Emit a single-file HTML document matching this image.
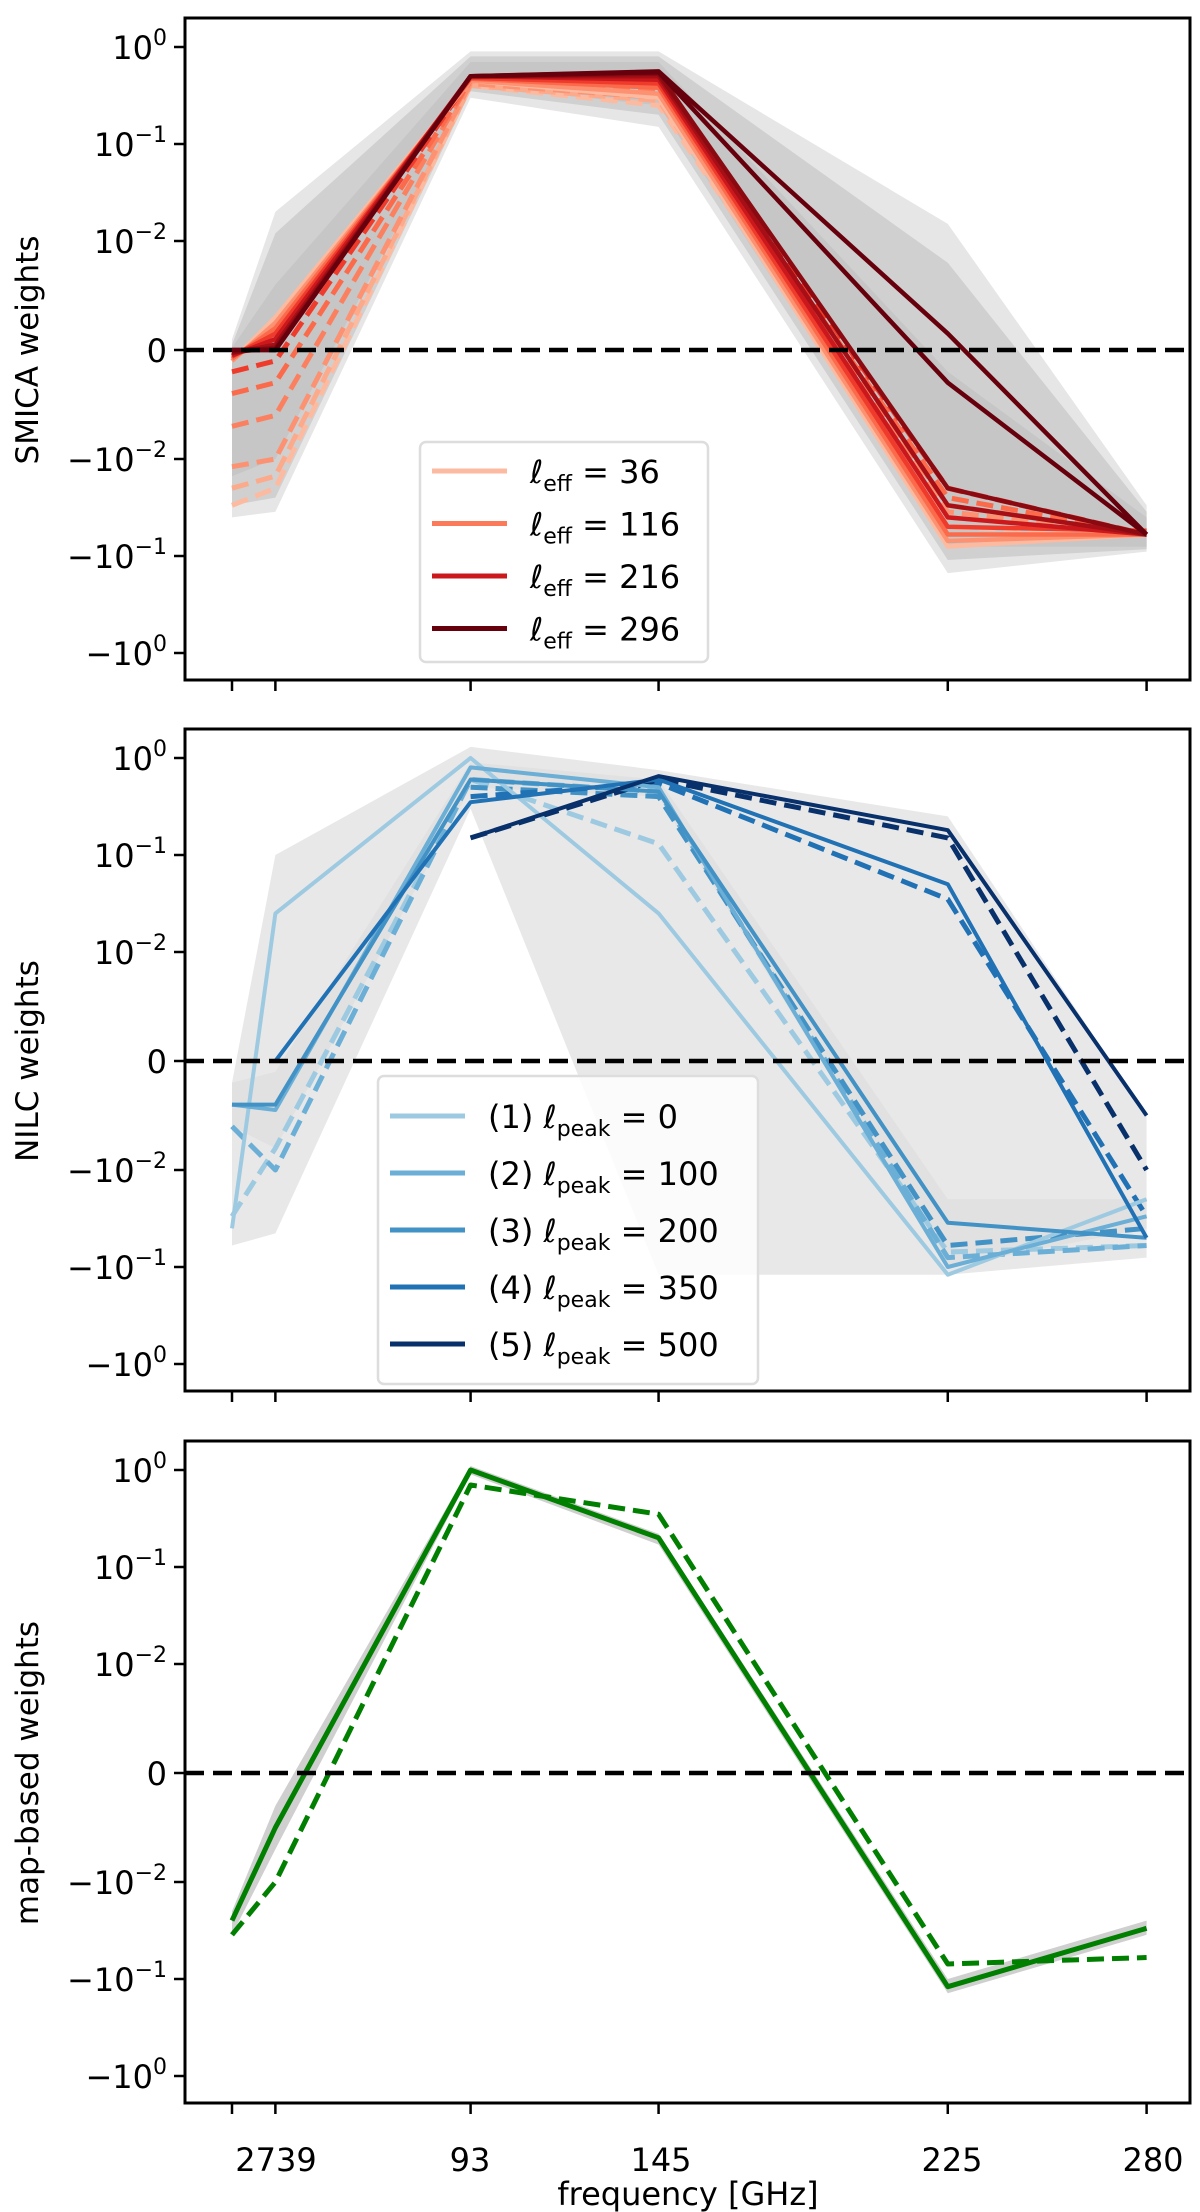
<!DOCTYPE html>
<html><head><meta charset="utf-8"><style>
html,body{margin:0;padding:0;background:#fff}
svg{display:block}
text{font-family:"DejaVu Sans","Liberation Sans",sans-serif;fill:#000}
</style></head><body>
<svg id="fig" width="1200" height="2212" viewBox="0 0 1200 2212" xmlns="http://www.w3.org/2000/svg"></svg>
<script>
const freqs=[27,39,93,145,225,280];
const freqLabels=["27","39","93","145","225","280"];
const yTickVals=[1,0.1,0.01,0,-0.01,-0.1,-1];
const yTickLabels=[["10","0"],["10","−1"],["10","−2"],["0",""],["−10","−2"],["−10","−1"],["−10","0"]];
// SMICA
const smicaSolid=[
 [-0.001,0.003,0.45,0.3,-0.08,-0.06],
 [-0.001,0.0025,0.45,0.33,-0.07,-0.06],
 [-0.0008,0.002,0.47,0.38,-0.06,-0.06],
 [-0.0006,0.0015,0.48,0.42,-0.05,-0.055],
 [-0.0005,0.001,0.5,0.46,-0.04,-0.06],
 [-0.0003,0.0005,0.5,0.5,-0.03,-0.06],
 [-0.0002,0.0002,0.5,0.53,-0.02,-0.06],
 [0,0,0.5,0.55,-0.003,-0.06],
 [0,0,0.5,0.56,0.0015,-0.06]];
const smicaSolidColors=["#fcbba1","#fc9272","#fb6a4a","#ef3b2c","#cb181d","#a50f15","#8b0a12","#67000d","#67000d"];
const smicaDashed=[
 [-0.03,-0.02,0.4,0.25,-0.05,-0.06],
 [-0.02,-0.015,0.4,0.28,-0.04,-0.06],
 [-0.012,-0.01,0.42,0.3,-0.035,-0.06],
 [-0.007,-0.006,0.45,0.35,-0.03,-0.06],
 [-0.004,-0.003,0.45,0.4,-0.025,-0.06],
 [-0.002,-0.001,0.48,0.45,-0.02,-0.06]];
const smicaDashedColors=["#fcbba1","#fcaa8c","#fc9272","#fb8060","#fb6a4a","#ef3b2c"];
const smicaBandHi=[0.001,0.02,0.9,0.9,0.015,-0.03];
const smicaBandLo=[-0.04,-0.035,0.3,0.15,-0.15,-0.09];
const smicaLegend=["36","116","216","296"];
const smicaLegendColors=["#fcbba1","#fb7a5a","#cb181d","#67000d"];
// NILC
const nilcSolid=[
 [-0.04,0.025,1.0,0.025,-0.12,-0.02],
 [-0.004,-0.0045,0.8,0.5,-0.1,-0.03],
 [-0.004,-0.004,0.6,0.45,-0.035,-0.05],
 [null,0.0,0.35,0.6,0.05,-0.05],
 [null,null,0.15,0.65,0.18,-0.005]];
const nilcDashed=[
 [-0.03,-0.008,0.6,0.13,-0.07,-0.06],
 [-0.006,-0.01,0.6,0.45,-0.08,-0.06],
 [null,null,0.5,0.4,-0.06,-0.04],
 [null,null,0.4,0.55,0.035,-0.03],
 [null,null,0.15,0.6,0.15,-0.01]];
const nilcColors=["#9ecae1","#6baed6","#4292c6","#2171b5","#08306b"];
const nilcBandHi=[-0.002,0.1,1.3,0.75,0.25,-0.005];
const nilcBandLo=[-0.06,-0.045,0.3,-0.12,-0.12,-0.08];
const nilcLegend=["(1)","0","(2)","100","(3)","200","(4)","350","(5)","500"];
// map-based
const mapSolid=[-0.025,-0.005,1.0,0.2,-0.12,-0.03];
const mapDashed=[-0.035,-0.01,0.7,0.35,-0.07,-0.06];
const mapBandHi=[-0.02,-0.003,1.1,0.22,-0.1,-0.025];
const mapBandLo=[-0.035,-0.007,0.9,0.17,-0.14,-0.035];

const NS="http://www.w3.org/2000/svg";
const svg=document.getElementById('fig');
function el(tag,attrs,parent){const e=document.createElementNS(NS,tag);for(const k in attrs)e.setAttribute(k,attrs[k]);(parent||svg).appendChild(e);return e;}
const L=185,R=1190,H=662;
const tops=[18,729,1441];
function xs(f){return 232+(f-27)*3.615;}
function ysFor(top){const z=top+332;return function(v){const a=Math.abs(v),s=Math.sign(v);
 if(a<=0.01)return z-v/0.01*109;return z-s*(109+(Math.log10(a)+2)*97);};}
function pts(vals,ys){const p=[];vals.forEach((v,i)=>{if(v!==null)p.push(xs(freqs[i]).toFixed(1)+","+ys(v).toFixed(1));});return p.join(" ");}
function band(hi,lo,ys,g,fill,op){const a=hi.map((v,i)=>xs(freqs[i]).toFixed(1)+","+ys(v).toFixed(1));
 const b=lo.map((v,i)=>xs(freqs[i]).toFixed(1)+","+ys(v).toFixed(1)).reverse();
 const p=el('polygon',{points:a.concat(b).join(" "),fill:fill,'fill-opacity':op},g);
 
 }
function line(vals,ys,g,color,dash,w,name){const p=el('polyline',{points:pts(vals,ys),fill:'none',stroke:color,'stroke-width':w||4.5,'stroke-dasharray':dash?'17,8':'none','stroke-linejoin':'round'},g);
 
 }
function axes(i){const top=tops[i],ys=ysFor(top);
 const g=el('g',{});
 
 
 return {g,ys,top};}
function frame(P,ylabel,showX){const {g,ys,top}=P;
 const z=el('line',{x1:L,x2:R,y1:ys(0),y2:ys(0),stroke:'#000','stroke-width':4.5,'stroke-dasharray':'19,9'},g);
 
 
 const r=el('rect',{x:L,y:top,width:R-L,height:H,fill:'none',stroke:'#000','stroke-width':3},g);
 
 
 yTickVals.forEach((v,k)=>{const y=ys(v);el('line',{x1:L-11,x2:L,y1:y,y2:y,stroke:'#000','stroke-width':2.5},g);
  const t=el('text',{x:L-18,y:y+12,'text-anchor':'end','font-size':32},g);
  
  
  t.textContent=yTickLabels[k][0];
  if(yTickLabels[k][1]){const s=el('tspan',{dy:-14,'font-size':22},t);s.textContent=yTickLabels[k][1];}
 });
 freqs.forEach((f)=>{el('line',{x1:xs(f),x2:xs(f),y1:top+H,y2:top+H+11,stroke:'#000','stroke-width':2.5},g);});
 const yl=el('text',{x:0,y:0,'text-anchor':'middle','font-size':31,'font-family':'Liberation Sans',transform:`translate(38,${top+332}) rotate(-90)`},g);
 
 
 yl.textContent=ylabel;
 if(showX){const lab=[232,276,470,661,952,1153];
  freqLabels.forEach((s,k)=>{if(k==0)return;
   const t=el('text',{x:lab[k],y:top+H+68,'text-anchor':'middle','font-size':32,'font-family':'Liberation Sans'},g);
   
   
   t.textContent=(k==1?"2739":s);
  });
  const xt=el('text',{x:688,y:top+H+102,'text-anchor':'middle','font-size':32,'font-family':'Liberation Sans'},g);
  
  
  xt.textContent="frequency [GHz]";
 }}
function legendBox(g,x,y,w,h){const r=el('rect',{x,y,width:w,height:h,rx:6,fill:'#fff','fill-opacity':0.8,stroke:'#ddd','stroke-width':2.5},g);
 
 }

// Panel 1
const P1=axes(0);
band(smicaBandHi,smicaBandLo,P1.ys,P1.g,'#e6e6e6',1);
band([0.0005,0.012,0.8,0.8,0.008,-0.035],[-0.03,-0.025,0.35,0.2,-0.11,-0.085],P1.ys,P1.g,'#d0d0d0',1);
band([0.0002,0.006,0.7,0.7,-0.002,-0.04],[-0.015,-0.01,0.4,0.25,-0.08,-0.08],P1.ys,P1.g,'#c4c4c4',0.9);
smicaDashed.forEach((d,k)=>line(d,P1.ys,P1.g,smicaDashedColors[k],true,5,'smica-dashed-'+k));
smicaSolid.forEach((d,k)=>line(d,P1.ys,P1.g,smicaSolidColors[k],false,4.5,'smica-solid-'+k));
frame(P1,"SMICA weights",false);
legendBox(P1.g,420,442,288,220);
smicaLegend.forEach((s,k)=>{const y=471+k*52.5;
 el('line',{x1:432,x2:507,y1:y,y2:y,stroke:smicaLegendColors[k],'stroke-width':5},P1.g);
 const t=el('text',{x:530,y:y+12,'font-size':32},P1.g);
 
 
 const a=el('tspan',{'font-style':'italic'},t);a.textContent='ℓ';
 const b=el('tspan',{dy:8,'font-size':22},t);b.textContent='eff';
 const c=el('tspan',{dy:-8},t);c.textContent=' = '+s;});

// Panel 2
const P2=axes(1);
band(nilcBandHi,nilcBandLo,P2.ys,P2.g,'#e8e8e8',1);
band([-0.002,-0.001,0.9,0.6,-0.02,-0.02],[-0.006,-0.008,0.5,0.4,-0.1,-0.04],P2.ys,P2.g,'#dcdcdc',0.6);
nilcDashed.forEach((d,k)=>line(d,P2.ys,P2.g,nilcColors[k],true,5,'nilc-dashed-'+(k+1)));
nilcSolid.forEach((d,k)=>line(d,P2.ys,P2.g,nilcColors[k],false,4,'nilc-solid-'+(k+1)));
frame(P2,"NILC weights",false);
legendBox(P2.g,378,1076,380,308);
for(let k=0;k<5;k++){const y=1116+k*57;
 el('line',{x1:390,x2:465,y1:y,y2:y,stroke:nilcColors[k],'stroke-width':5},P2.g);
 const t=el('text',{x:488,y:y+12,'font-size':32},P2.g);
 
 
 const a=el('tspan',{},t);a.textContent=nilcLegend[2*k]+' ';
 const i=el('tspan',{'font-style':'italic'},t);i.textContent='ℓ';
 const b=el('tspan',{dy:8,'font-size':22},t);b.textContent='peak';
 const c=el('tspan',{dy:-8},t);c.textContent=' = '+nilcLegend[2*k+1];}

// Panel 3
const P3=axes(2);
band(mapBandHi,mapBandLo,P3.ys,P3.g,'#cfcfcf',1);
line(mapDashed,P3.ys,P3.g,'#007f00',true,5,'map-dashed-line');
line(mapSolid,P3.ys,P3.g,'#007f00',false,5,'map-solid-line');
frame(P3,"map-based weights",true);
</script>
</body></html>
